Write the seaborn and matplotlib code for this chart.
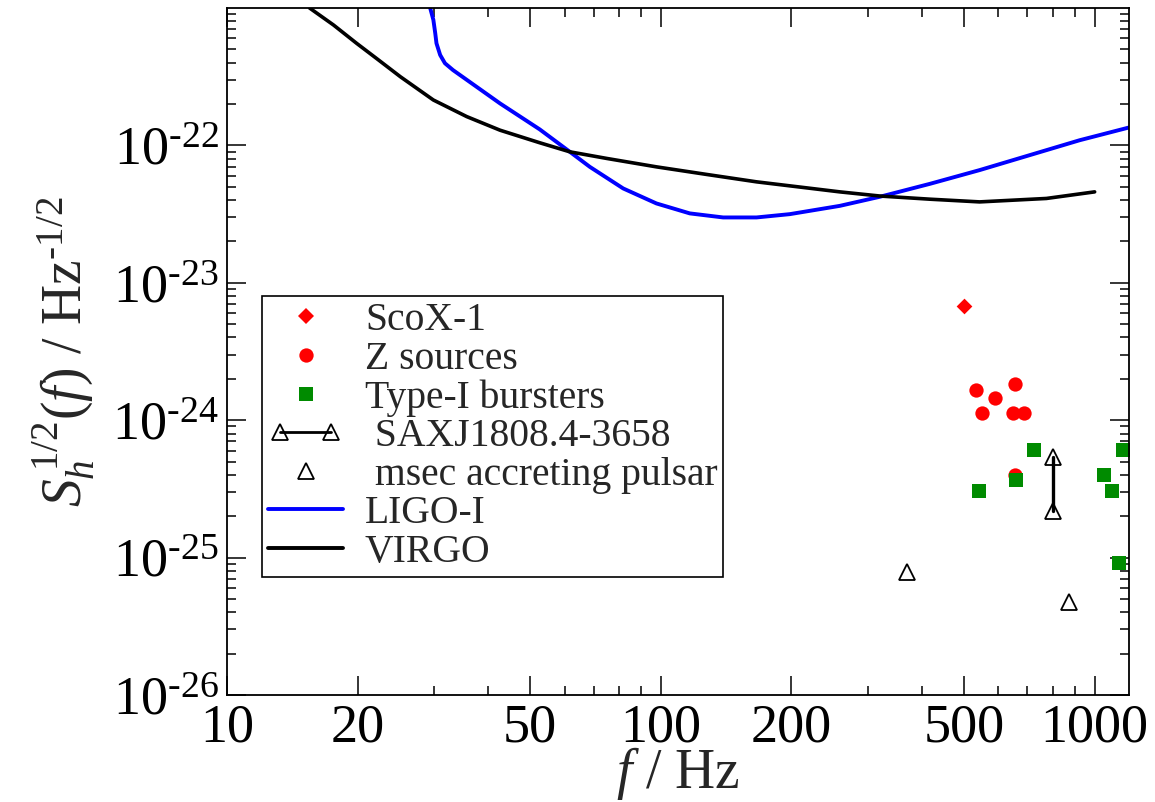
import numpy as np
import matplotlib
matplotlib.use("Agg")
import matplotlib.pyplot as plt
from matplotlib.lines import Line2D
from matplotlib.legend_handler import HandlerLine2D
from matplotlib.ticker import FixedLocator, LogLocator, FuncFormatter, NullFormatter
import seaborn as sns

# ---- data ----
# LIGO-I sensitivity curve
ligo_f = [29.4, 29.9, 30.2, 30.4, 31.0, 31.8, 33.2, 42.6, 52.6, 61.7, 68.6, 81.9, 97.7,
          116.6, 139.2, 166.2, 198.3, 258.5, 320, 417, 543, 923, 1200]
ligo_h = [1.0e-21, 8.2e-22, 6.55e-22, 5.53e-22, 4.55e-22, 3.96e-22, 3.53e-22, 2.02e-22,
          1.307e-22, 8.98e-23, 6.98e-23, 4.86e-23, 3.78e-23, 3.2e-23, 2.99e-23, 2.99e-23,
          3.16e-23, 3.63e-23, 4.23e-23, 5.25e-23, 6.61e-23, 1.09e-22, 1.35e-22]

# VIRGO sensitivity curve
virgo_f = [15.5, 17.6, 19.9, 22.1, 25.1, 29.9, 35.7, 42.6, 52.6, 61.7, 75.0, 97.7, 127.4,
           166.2, 216.6, 258.5, 320, 417, 543, 774, 1000]
virgo_h = [1.0e-21, 7.52e-22, 5.53e-22, 4.3e-22, 3.16e-22, 2.14e-22, 1.62e-22, 1.29e-22,
           1.045e-22, 8.98e-23, 8.04e-23, 6.98e-23, 6.15e-23, 5.43e-23, 4.91e-23, 4.59e-23,
           4.28e-23, 4.06e-23, 3.88e-23, 4.11e-23, 4.59e-23]

# sources
scox_f = [500]
scox_h = [6.8e-24]
zsrc_f = [532, 589, 655, 550, 648, 686, 655]
zsrc_h = [1.65e-24, 1.44e-24, 1.84e-24, 1.13e-24, 1.13e-24, 1.13e-24, 4.0e-25]
burst_f = [726, 541, 660, 1050, 1099, 1162, 1135]
burst_h = [6.1e-25, 3.05e-25, 3.65e-25, 3.97e-25, 3.05e-25, 6.1e-25, 9.1e-26]
sax_f = [802, 802]
sax_h = [5.4e-25, 2.2e-25]
msec_f = [370, 871]
msec_h = [7.85e-26, 4.74e-26]

labels = ["ScoX-1", "Z sources", "Type-I bursters", " SAXJ1808.4-3658",
          " msec accreting pulsar", "LIGO-I", "VIRGO"]
xticks = [10, 20, 50, 100, 200, 500, 1000]
yticks = [1e-26, 1e-25, 1e-24, 1e-23, 1e-22]

HY = "\u2010"  # short hyphen for the exponents

sns.set_theme(style="ticks")
plt.rcParams["font.family"] = ["Liberation Serif", "DejaVu Serif"]
plt.rcParams["mathtext.fontset"] = "custom"
plt.rcParams["mathtext.rm"] = "Liberation Serif"
plt.rcParams["mathtext.it"] = "Liberation Serif:italic"
plt.rcParams["mathtext.bf"] = "Liberation Serif:bold"

fig = plt.figure(figsize=(11.55, 8.02), dpi=100)
ax = fig.add_axes([227 / 1155, 1 - 695 / 802, 902 / 1155, 687 / 802])
ax.set_xscale("log")
ax.set_yscale("log")

sns.lineplot(x=ligo_f, y=ligo_h, color="#0000ff", linewidth=2.8, sort=False,
             estimator=None, ax=ax)
sns.lineplot(x=virgo_f, y=virgo_h, color="black", linewidth=2.6, sort=False,
             estimator=None, ax=ax)

sns.scatterplot(x=scox_f, y=scox_h, marker="D", s=8 ** 2, color="#ff0000",
                linewidth=0, ax=ax)
sns.scatterplot(x=zsrc_f, y=zsrc_h, marker="o", s=10.3 ** 2, color="#ff0000",
                linewidth=0, ax=ax)
sns.scatterplot(x=burst_f, y=burst_h, marker="s", s=9.6 ** 2, color="#008b00",
                linewidth=0, ax=ax)
ax.plot(sax_f, sax_h, color="black", linewidth=2.4, marker="^", markersize=12,
        markerfacecolor="none", markeredgecolor="black", markeredgewidth=1.3)
ax.plot(msec_f, msec_h, linestyle="none", marker="^", markersize=12,
        markerfacecolor="none", markeredgecolor="black", markeredgewidth=1.3)

ax.set_xlim(10, 1200)
ax.set_ylim(1e-26, 1e-21)

ax.xaxis.set_major_locator(FixedLocator(xticks))
ax.xaxis.set_major_formatter(FuncFormatter(lambda v, p: "%d" % v))
ax.xaxis.set_minor_locator(LogLocator(base=10, subs=[3, 4, 6, 7, 8, 9]))
ax.xaxis.set_minor_formatter(NullFormatter())
ax.yaxis.set_major_locator(FixedLocator(yticks))
ax.yaxis.set_major_formatter(FuncFormatter(
    lambda v, p: "$10^{" + HY + "%d}$" % round(-np.log10(v))))
ax.yaxis.set_minor_locator(LogLocator(base=10, subs=np.arange(2, 10)))
ax.yaxis.set_minor_formatter(NullFormatter())

ax.tick_params(which="both", direction="in", top=True, right=True, width=1.1,
               labelsize=39, colors="black")
ax.tick_params(which="major", length=13.7, pad=6)
ax.tick_params(which="minor", length=6.8)
for s in ax.spines.values():
    s.set_linewidth(1.3)
    s.set_color("black")

ax.set_xlabel(r"$f$ / Hz", fontsize=40, labelpad=-6)
ax.set_ylabel(r"$S_h^{\,\mathit{1/2}}(f)$ / Hz$^{" + HY + "1/2}$", fontsize=40,
              labelpad=11)

handles = [
    Line2D([], [], linestyle="none", marker="D", markersize=8, color="#ff0000", markeredgewidth=0),
    Line2D([], [], linestyle="none", marker="o", markersize=10.3, color="#ff0000", markeredgewidth=0),
    Line2D([], [], linestyle="none", marker="s", markersize=9.6, color="#008b00", markeredgewidth=0),
    Line2D([], [], color="black", linewidth=2, marker="^", markersize=12,
           markerfacecolor="none", markeredgecolor="black", markeredgewidth=1.3),
    Line2D([], [], linestyle="none", marker="^", markersize=12,
           markerfacecolor="none", markeredgecolor="black", markeredgewidth=1.3),
    Line2D([], [], color="#0000ff", linewidth=2.8),
    Line2D([], [], color="black", linewidth=2.8),
]
leg = ax.legend(handles, labels, loc="upper left", bbox_to_anchor=(0.0388, 0.5808),
                borderaxespad=0, fontsize=28.5, numpoints=1, handlelength=1.9,
                handletextpad=0.55, borderpad=0.15, labelspacing=0.04,
                fancybox=False, framealpha=1, edgecolor="black",
                handler_map={handles[3]: HandlerLine2D(numpoints=2)})
leg.get_frame().set_linewidth(1.2)

fig.savefig("out.png", dpi=100)
